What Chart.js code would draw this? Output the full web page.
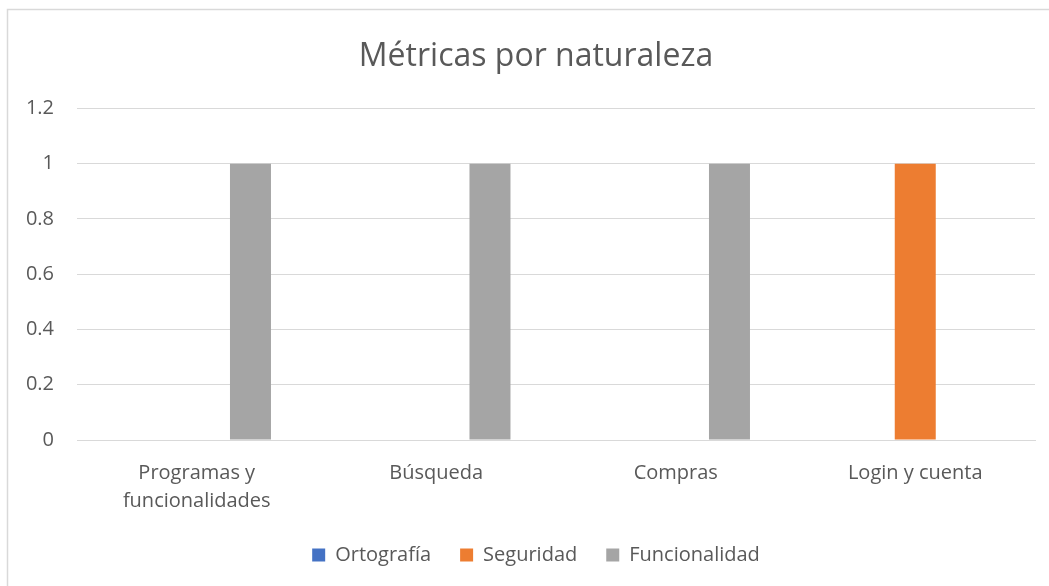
<!DOCTYPE html>
<html lang="es">
<head>
<meta charset="utf-8">
<title>Métricas por naturaleza</title>
<script src="https://cdn.jsdelivr.net/npm/chart.js@4/dist/chart.umd.min.js"></script>
<style>
  html, body { margin: 0; padding: 0; background: #ffffff; overflow: hidden; }
  canvas { display: block; }
</style>
</head>
<body>
<canvas id="chart" width="1049" height="586"></canvas>
<script>
// Categories (x axis)
const categories = [
  ['Programas y', 'funcionalidades'],
  'Búsqueda',
  'Compras',
  'Login y cuenta'
];

// Series values per category
const ortografia    = [0, 0, 0, 0];
const seguridad     = [0, 0, 0, 1];
const funcionalidad = [1, 1, 1, 0];

// Value axis tick labels, from 0 up to 1.2
const yTickValues = [0, 0.2, 0.4, 0.6, 0.8, 1, 1.2];
const yTickLabels = ['0', '0.2', '0.4', '0.6', '0.8', '1', '1.2'];

const FONT = '"Open Sans", "DejaVu Sans", sans-serif';
const TEXT = '#595959';
const GRID = '#d9d9d9';

// Thin light frame around the whole chart object
const framePlugin = {
  id: 'frame',
  beforeDraw(chart) {
    const ctx = chart.ctx;
    ctx.save();
    ctx.fillStyle = '#ffffff';
    ctx.fillRect(0, 0, chart.width, chart.height);
    ctx.strokeStyle = GRID;
    ctx.lineWidth = 1.5;
    ctx.strokeRect(7.5, 9.5, chart.width + 40, chart.height + 40);
    ctx.restore();
  }
};

// The value axis is kept narrow so title and legend stay centred on the
// whole frame; widen its label clip region so the tick text is not cut.
const labelRoomPlugin = {
  id: 'labelRoom',
  afterLayout(chart) {
    const y = chart.scales.y;
    if (y) y.left = 0;
  }
};

new Chart(document.getElementById('chart'), {
  type: 'bar',
  data: {
    labels: categories,
    datasets: [
      { label: 'Ortografía',    data: ortografia,    backgroundColor: '#4472C4' },
      { label: 'Seguridad',     data: seguridad,     backgroundColor: '#ED7D31' },
      { label: 'Funcionalidad', data: funcionalidad, backgroundColor: '#A5A5A5' }
    ]
  },
  options: {
    responsive: false,
    devicePixelRatio: 1,
    animation: false,
    datasets: {
      bar: { categoryPercentage: 0.673, barPercentage: 0.763, borderWidth: 0 }
    },
    layout: { padding: { left: 37, right: 14, top: 0, bottom: 11 } },
    plugins: {
      tooltip: { enabled: false },
      title: {
        display: true,
        text: 'Métricas por naturaleza',
        color: TEXT,
        font: { family: FONT, size: 32, weight: 'normal' },
        padding: { top: 38, bottom: 32 }
      },
      legend: {
        position: 'bottom',
        labels: {
          color: TEXT,
          font: { family: FONT, size: 20 },
          boxWidth: 13,
          boxHeight: 13,
          padding: 29
        }
      }
    },
    scales: {
      x: {
        grid: { display: false, drawTicks: false },
        border: { display: true, color: GRID, width: 1 },
        ticks: {
          color: TEXT,
          font: { family: FONT, size: 20, lineHeight: 1.4 },
          padding: 19,
          maxRotation: 0,
          autoSkip: false
        },
        afterFit(scale) { scale.height = 76; }
      },
      y: {
        min: 0,
        max: 1.2,
        afterBuildTicks(scale) {
          scale.ticks = yTickValues.map(v => ({ value: v }));
        },
        grid: { color: GRID, lineWidth: 1, drawTicks: false },
        border: { display: false },
        ticks: {
          color: TEXT,
          font: { family: FONT, size: 20 },
          padding: 23,
          callback(value) {
            const i = yTickValues.indexOf(value);
            return i >= 0 ? yTickLabels[i] : '';
          }
        },
        afterFit(scale) { scale.width = 40; }
      }
    }
  },
  plugins: [framePlugin, labelRoomPlugin]
});
</script>
</body>
</html>
